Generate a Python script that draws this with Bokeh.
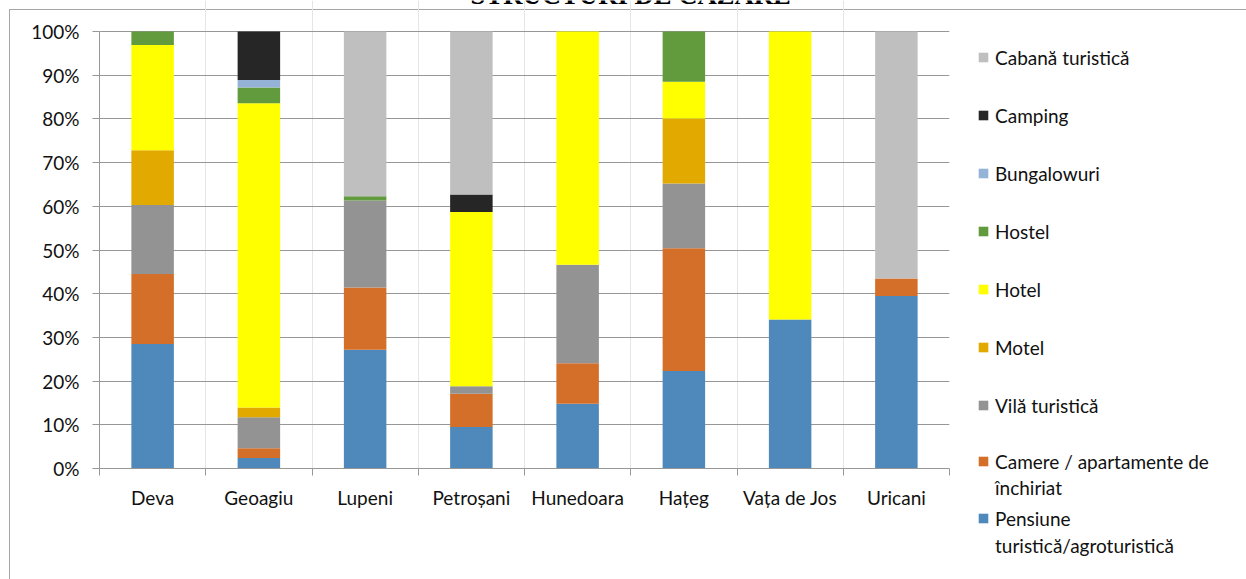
from bokeh.plotting import figure
from bokeh.models import (Range1d, LinearAxis, FixedTicker, NumeralTickFormatter,
                          Legend, LegendItem, Label, ColumnDataSource)
from bokeh.core.properties import value
from bokeh.embed import file_html
from bokeh.resources import INLINE

title = "STRUCTURI DE CAZARE"
localities = ["Deva", "Geoagiu", "Lupeni", "Petroșani", "Hunedoara", "Hațeg", "Vața de Jos", "Uricani"]
types = ["Pensiune turistică/agroturistică", "Camere / apartamente de închiriat", "Vilă turistică",
         "Motel", "Hotel", "Hostel", "Bungalowuri", "Camping", "Cabană turistică"]
colors = ["#4f89bc", "#d46f2a", "#939393", "#e2a900", "#ffff00", "#629a3e", "#95b3d7", "#262626", "#bfbfbf"]

pensiune = [28.5, 2.4, 27.2, 9.5, 14.8, 22.3, 34.1, 39.5]
camere = [16.0, 2.25, 14.2, 7.6, 9.3, 28.1, 0.0, 4.0]
vila = [15.8, 7.05, 19.9, 1.7, 22.5, 14.8, 0.0, 0.0]
motel = [12.5, 2.25, 0.0, 0.0, 0.0, 14.9, 0.0, 0.0]
hotel = [24.1, 69.65, 0.0, 39.9, 53.4, 8.4, 65.9, 0.0]
hostel = [3.1, 3.6, 1.0, 0.0, 0.0, 11.5, 0.0, 0.0]
bungalowuri = [0.0, 1.7, 0.0, 0.0, 0.0, 0.0, 0.0, 0.0]
camping = [0.0, 11.1, 0.0, 4.0, 0.0, 0.0, 0.0, 0.0]
cabana = [0.0, 0.0, 37.7, 37.3, 0.0, 0.0, 0.0, 56.5]

y_ticks = [0.0, 0.1, 0.2, 0.3, 0.4, 0.5, 0.6, 0.7, 0.8, 0.9, 1.0]

n = len(localities)
series = [pensiune, camere, vila, motel, hotel, hostel, bungalowuri, camping, cabana]
keys = ["s%d" % i for i in range(len(series))]
totals = [sum(s[j] for s in series) for j in range(n)]
centres = [i + 0.5 for i in range(n)]          # category slots on a 0..n axis
data = {"x": centres, "loc": localities}
for k, s in zip(keys, series):
    data[k] = [v / t for v, t in zip(s, totals)]
source = ColumnDataSource(data)

FONT = "Lato"
FS = "19px"
TXT = "#111111"
GRID = "#979797"
BORDER = "#a6a6a6"

H = 579
MAIN_W = 960
LEG_W = 1246 - MAIN_W
LEFT, BOTTOM = 99, 111            # pixel margins around the plotting frame
UNIT = 437.0                      # pixels for 100 %

# main chart: the frame is extended to the top so that the (cut) title is drawn inside it
p = figure(x_range=Range1d(0, n), y_range=Range1d(0, (H - BOTTOM) / UNIT),
           width=MAIN_W, height=H, output_backend="svg", toolbar_location=None,
           x_axis_location=None, min_border_left=LEFT, min_border_right=MAIN_W - LEFT - 850,
           min_border_top=0, min_border_bottom=BOTTOM)
p.outline_line_color = None
p.background_fill_color = None
p.border_fill_color = None
p.styles = {
    "background": ("linear-gradient(%s, %s) 9px 9px / 100%% 1px no-repeat, "
                   "linear-gradient(%s, %s) 9px 9px / 1px 100%% no-repeat, white") % (BORDER, BORDER, BORDER, BORDER)
}

renderers = p.vbar_stack(keys, x="x", width=0.4, color=colors, line_color=None, source=source)

# y axis
yax = p.yaxis[0]
yax.ticker = FixedTicker(ticks=y_ticks)
yax.bounds = (0, 1)
yax.formatter = NumeralTickFormatter(format="0%")
yax.axis_line_color = GRID
yax.major_tick_line_color = GRID
yax.major_tick_out = 7
yax.major_tick_in = 0
yax.minor_tick_line_color = None
yax.major_label_standoff = 13
yax.major_label_text_font = FONT
yax.major_label_text_font_size = FS
yax.major_label_text_color = TXT
p.ygrid.grid_line_color = GRID
p.ygrid.grid_line_width = 1.2
p.ygrid.bounds = (0, n)

# x axis: labels at centres, ticks at category boundaries
xax = LinearAxis(ticker=FixedTicker(ticks=centres, minor_ticks=list(range(n + 1))),
                 major_label_overrides={c: name for c, name in zip(centres, localities)})
xax.bounds = (0, n)
xax.major_tick_out = 0
xax.major_tick_in = 0
xax.minor_tick_out = 7
xax.minor_tick_in = 0
xax.minor_tick_line_color = GRID
xax.axis_line_color = GRID
xax.axis_line_width = 1.2
xax.major_label_standoff = 10
xax.major_label_text_font = FONT
xax.major_label_text_font_size = FS
xax.major_label_text_color = TXT
p.add_layout(xax, "below")

# title (cut at the top of the picture)
p.add_layout(Label(x=5.0, y=1.0824, text=title,
                   text_font="Liberation Serif", text_font_style="bold", text_font_size="26.7px",
                   text_color="#000000", text_align="center", text_baseline="alphabetic"))

# legend panel: its own figure (placed to the right of the chart) whose frame covers it all
lf = figure(x_range=Range1d(0, 1), y_range=Range1d(0, 1), width=LEG_W, height=H,
            output_backend="svg", toolbar_location=None,
            x_axis_location=None, y_axis_location=None,
            min_border_left=0, min_border_right=0, min_border_top=0, min_border_bottom=0)
lf.outline_line_color = None
lf.background_fill_color = None
lf.border_fill_color = None
lf.xgrid.visible = False
lf.ygrid.visible = False
lf.styles = {
    "position": "absolute", "left": "%dpx" % MAIN_W, "top": "0px",
    "background": "linear-gradient(%s, %s) 0 9px / 100%% 1px no-repeat, white" % (BORDER, BORDER),
}

# legend handles: zero-height bars carrying the series colours
handles = [lf.vbar(x=[0], top=[0], width=0, color=c, line_color=None) for c in colors]
blank = lf.vbar(x=[0], top=[0], width=0, fill_alpha=0, line_alpha=0)

def make_legend(entries, spacing, loc):
    items = [LegendItem(label=value(lab), renderers=[r]) for lab, r in entries]
    lg = Legend(items=items, location=loc, orientation="vertical",
                glyph_width=12, glyph_height=12, label_height=23,
                label_standoff=6, spacing=spacing, padding=0, margin=0,
                border_line_color=None, background_fill_alpha=0,
                label_text_font=FONT, label_text_font_size=FS, label_text_color=TXT)
    lf.add_layout(lg, "center")

GX = 977 - MAIN_W
rev = list(zip(types, handles))[::-1]
make_legend(rev[:7], 35, (GX, 162.5))
make_legend([("Camere / apartamente de", handles[1]), ("închiriat", blank)], 3, (GX, 80.5))
make_legend([("Pensiune", handles[0]), ("turistică/agroturistică", blank)], 4, (GX, 22.5))

open("out.html", "w").write(file_html([p, lf], INLINE))
